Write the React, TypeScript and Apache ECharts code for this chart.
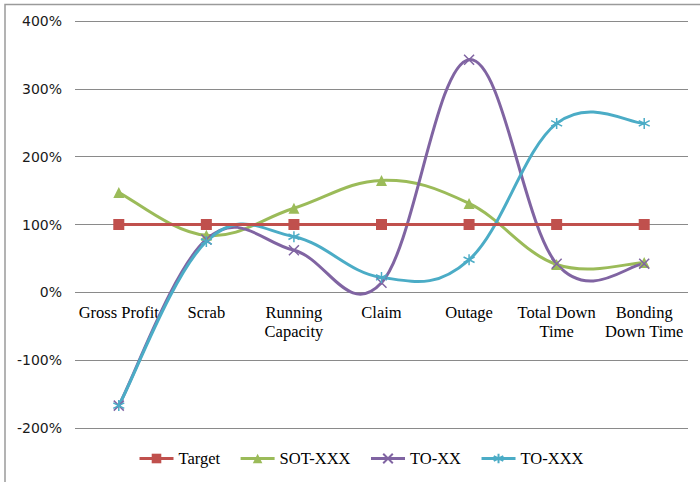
import React, { useEffect, useRef } from "react";
import * as echarts from "echarts";

// Categories along the x axis (line breaks as shown under the axis)
const categories: string[] = [
  "Gross Profit",
  "Scrab",
  "Running\nCapacity",
  "Claim",
  "Outage",
  "Total Down\nTime",
  "Bonding\nDown Time",
];

// Series values, in percent
const target: number[] = [100, 100, 100, 100, 100, 100, 100];
const sotXXX: number[] = [147, 84, 124, 165, 131, 41, 44];
const toXX: number[] = [-167, 78, 62, 14, 343, 42, 42];
const toXXX: number[] = [-167, 75, 82, 22, 48, 249, 249];

// Y axis range and step, in percent
const yMin = -200;
const yMax = 400;
const yStep = 100;

const COLORS = {
  target: "#C0504D",
  sot: "#9BBB59",
  toxx: "#8064A2",
  toxxx: "#4BACC6",
  grid: "#8a8a8a",
};

const CROSS = "path://M0,0L10,10M10,0L0,10";
const ASTERISK = "path://M5,0L5,10M0.7,2.5L9.3,7.5M0.7,7.5L9.3,2.5";

// Tension of the smoothed curves (control point = point ± (next − prev) · K)
const K = 0.19;

// Smooth curve through the data points, drawn in pixel space from the axes' scales
function curveSeries(id: string, values: number[], color: string) {
  return {
    id,
    type: "custom",
    coordinateSystem: "cartesian2d",
    data: [[0, values[0]]],
    encode: { x: 0, y: 1 },
    silent: true,
    renderItem: (_params: any, api: any) => {
      const pts = values.map((v, i) => api.coord([i, v]));
      const n = pts.length;
      const children: any[] = [];
      for (let i = 0; i < n - 1; i++) {
        const p0 = pts[Math.max(i - 1, 0)];
        const p1 = pts[i];
        const p2 = pts[i + 1];
        const p3 = pts[Math.min(i + 2, n - 1)];
        children.push({
          type: "bezierCurve",
          shape: {
            x1: p1[0],
            y1: p1[1],
            x2: p2[0],
            y2: p2[1],
            cpx1: p1[0] + (p2[0] - p0[0]) * K,
            cpy1: p1[1] + (p2[1] - p0[1]) * K,
            cpx2: p2[0] - (p3[0] - p1[0]) * K,
            cpy2: p2[1] - (p3[1] - p1[1]) * K,
          },
          style: { stroke: color, lineWidth: 3, fill: "none", lineCap: "round" },
        });
      }
      return { type: "group", children };
    },
  };
}

// Markers of a series (its line is drawn by curveSeries)
function markerSeries(
  name: string,
  data: number[],
  color: string,
  symbol: string,
  symbolSize: number,
  stroked: boolean
) {
  return {
    name,
    type: "line",
    data,
    symbol,
    symbolSize,
    showSymbol: true,
    lineStyle: { color, width: 3, opacity: 0 },
    itemStyle: stroked
      ? { color, borderColor: color, borderWidth: 1.5 }
      : { color, borderWidth: 0 },
    emphasis: { disabled: true },
  };
}

export default function App() {
  const ref = useRef<HTMLDivElement>(null);

  useEffect(() => {
    if (!ref.current) return;
    const chart = echarts.init(ref.current, undefined, { renderer: "svg" });

    const gridTop = 21;
    const gridBottom = 54;
    const plotH = 482 - gridTop - gridBottom;
    // Shift the category axis up from the bottom edge to the 0% line
    const zeroOffset = -plotH * ((0 - yMin) / (yMax - yMin));

    chart.setOption({
      animation: false,
      backgroundColor: "#ffffff",
      graphic: [
        {
          type: "rect",
          shape: { x: 5, y: 4.5, width: 760, height: 560 },
          style: { fill: "none", stroke: "#9a9a9a", lineWidth: 1.5 },
          silent: true,
        },
      ],
      grid: { left: 75, right: 12, top: gridTop, bottom: gridBottom, containLabel: false },
      legend: {
        left: 138,
        top: 450,
        padding: 0,
        itemWidth: 34,
        itemHeight: 12,
        itemGap: 19,
        textStyle: {
          fontFamily: "Liberation Serif",
          fontSize: 16.5,
          color: "#000",
        },
        data: [
          { name: "Target", lineStyle: { opacity: 1, width: 3 } },
          { name: "SOT-XXX", lineStyle: { opacity: 1, width: 3 } },
          { name: "TO-XX", lineStyle: { opacity: 1, width: 3 } },
          { name: "TO-XXX", lineStyle: { opacity: 1, width: 3 } },
        ],
      },
      xAxis: {
        type: "category",
        data: categories,
        boundaryGap: true,
        offset: zeroOffset,
        axisLine: { show: false, onZero: false },
        axisTick: { show: false },
        axisLabel: {
          interval: 0,
          margin: 11,
          fontFamily: "Liberation Serif",
          fontSize: 16.5,
          lineHeight: 19,
          color: "#000",
        },
        splitLine: { show: false },
      },
      yAxis: {
        type: "value",
        min: yMin,
        max: yMax,
        interval: yStep,
        axisLine: { show: false },
        axisTick: { show: false },
        axisLabel: {
          formatter: "{value}%",
          margin: 13,
          fontFamily: "DejaVu Sans",
          fontSize: 14,
          color: "#1a1a1a",
        },
        splitLine: { lineStyle: { color: COLORS.grid, width: 1 } },
      },
      series: [
        {
          name: "Target",
          type: "line",
          data: target,
          symbol: "rect",
          symbolSize: 11,
          lineStyle: { color: COLORS.target, width: 3 },
          itemStyle: { color: COLORS.target, borderWidth: 0 },
          emphasis: { disabled: true },
        },
        curveSeries("sot-curve", sotXXX, COLORS.sot),
        markerSeries("SOT-XXX", sotXXX, COLORS.sot, "triangle", 11, false),
        curveSeries("toxx-curve", toXX, COLORS.toxx),
        markerSeries("TO-XX", toXX, COLORS.toxx, CROSS, 10, true),
        curveSeries("toxxx-curve", toXXX, COLORS.toxxx),
        markerSeries("TO-XXX", toXXX, COLORS.toxxx, ASTERISK, 11, true),
      ],
    });

    return () => chart.dispose();
  }, []);

  return (
    <div
      ref={ref}
      style={{ position: "fixed", left: 0, top: 0, width: 700, height: 482 }}
    />
  );
}
